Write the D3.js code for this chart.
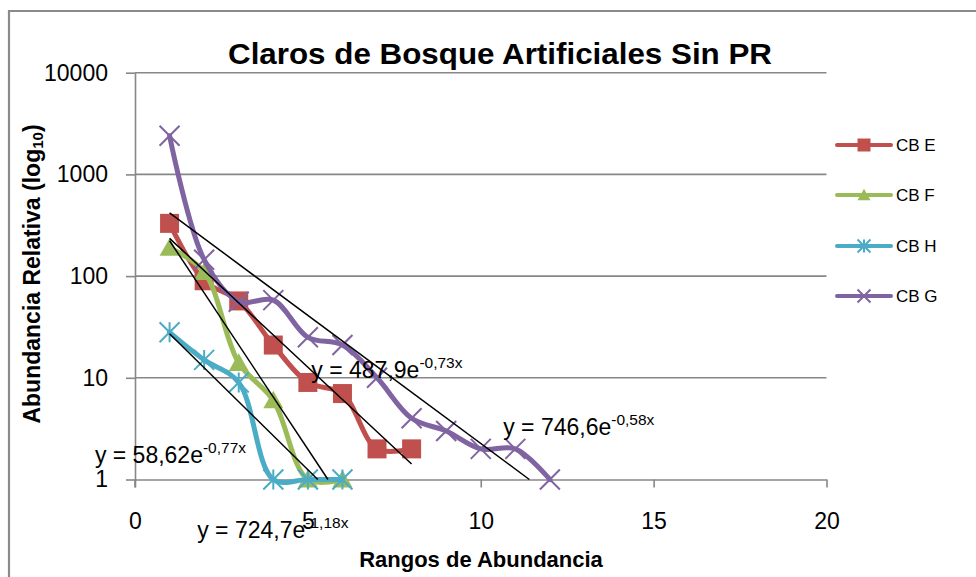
<!DOCTYPE html>
<html>
<head>
<meta charset="utf-8">
<script src="https://cdn.jsdelivr.net/npm/d3@7"></script>
<style>
  body { margin: 0; background: #fff; }
  svg { display: block; font-family: "Liberation Sans", Arial, sans-serif; }
  .axis path, .axis line { stroke: #878787; stroke-width: 1.6px; }
  .axis text { fill: #000; font-size: 23px; font-family: "Liberation Sans", Arial, sans-serif; }
</style>
</head>
<body>
<div class="chart"></div>
<script>
// data
const rangos = [1, 2, 3, 4, 5, 6, 7, 8, 9, 10, 11, 12];
const cbE = [330, 90, 57, 21, 9, 7, 2, 2];
const cbF = [190, 110, 14, 6, 1, 1];
const cbH = [28, 15, 9, 1, 1, 1];
const cbG = [2400, 145, 56, 58, 25, 21, 10, 4, 3, 2, 2, 1];
const seriesNames = ["CB E", "CB F", "CB H", "CB G"];
const seriesColors = ["#C0504D", "#9BBB59", "#4BACC6", "#8064A2"];
const markerTypes = ["square", "triangle", "star", "cross"];

// exponential trendlines y = a * e^(b x)
const trendA = [487.9, 724.7, 58.62, 746.6];
const trendB = [-0.73, -1.18, -0.77, -0.58];
const trendText = ["y = 487,9e", "y = 724,7e", "y = 58,62e", "y = 746,6e"];
const trendExp = ["-0,73x", "-1,18x", "-0,77x", "-0,58x"];
// where each equation label sits (data coords: x, y)
const trendLabelX = [5.1, 1.8, -1.16, 10.65];
const trendLabelY = [9.95, 0.266, 1.45, 2.74];

const xTicks = [0, 5, 10, 15, 20];
const yTicks = [1, 10, 100, 1000, 10000];

const series = [cbE, cbF, cbH, cbG].map((vals, i) => ({
  name: seriesNames[i],
  color: seriesColors[i],
  marker: markerTypes[i],
  values: vals.map((v, j) => ({ x: rangos[j], y: v })),
}));

const W = 976, H = 577;
const svg = d3.select(".chart").append("svg").attr("width", W).attr("height", H);

const x = d3.scaleLinear().domain([0, 20]).range([135, 826.5]);
const y = d3.scaleLog().domain([1, 10000]).range([479.5, 72.7]);

// outer chart border (runs off the right / bottom edge)
svg.append("path")
  .attr("d", `M9,${H + 5}V11H${W + 5}`)
  .attr("fill", "none")
  .attr("stroke", "#8a8a8a")
  .attr("stroke-width", 2.2);

// horizontal gridlines
svg.append("g")
  .selectAll("line")
  .data(yTicks.slice(1))
  .enter()
  .append("line")
  .attr("x1", x(0))
  .attr("x2", x(20))
  .attr("y1", (d) => y(d))
  .attr("y2", (d) => y(d))
  .attr("stroke", "#878787")
  .attr("stroke-width", 1.6);

const yAxis = d3.axisLeft(y).tickValues(yTicks).tickSize(9).tickSizeOuter(0)
  .tickPadding(18).tickFormat(d3.format("d"));
svg.append("g").attr("class", "axis y-axis")
  .attr("transform", `translate(${x(0)},0)`)
  .call(yAxis);
// y axis runs a bit below the x axis like in Excel
svg.append("line")
  .attr("x1", x(0)).attr("x2", x(0))
  .attr("y1", y(1)).attr("y2", y(1) + 8)
  .attr("stroke", "#878787").attr("stroke-width", 1.6);

const xAxis = d3.axisBottom(x).tickValues(xTicks).tickSize(8).tickSizeOuter(0)
  .tickPadding(25);
svg.append("g").attr("class", "axis x-axis")
  .attr("transform", `translate(0,${y(1)})`)
  .call(xAxis);

// markers
function drawMarker(g, type, color, s) {
  if (type === "square") {
    g.append("rect").attr("x", -s / 2).attr("y", -s / 2).attr("width", s).attr("height", s)
      .attr("fill", color);
  } else if (type === "triangle") {
    g.append("path")
      .attr("d", `M0,${-s * 0.48}L${s / 2},${s * 0.4}L${-s / 2},${s * 0.4}Z`)
      .attr("fill", color);
  } else if (type === "star") {
    const r = s / 2;
    g.append("path")
      .attr("d", `M${-r},${-r}L${r},${r}M${-r},${r}L${r},${-r}M0,${-r}V${r}`)
      .attr("stroke", color).attr("stroke-width", 2).attr("fill", "none");
  } else {
    const r = s / 2;
    g.append("path")
      .attr("d", `M${-r},${-r}L${r},${r}M${-r},${r}L${r},${-r}`)
      .attr("stroke", color).attr("stroke-width", 2).attr("fill", "none");
  }
}

const line = d3.line()
  .x((d) => x(d.x))
  .y((d) => y(d.y))
  .curve(d3.curveCatmullRom.alpha(0.5));

series.forEach((s) => {
  const g = svg.append("g").attr("class", "series");
  g.append("path")
    .attr("d", line(s.values))
    .attr("fill", "none")
    .attr("stroke", s.color)
    .attr("stroke-width", 5)
    .attr("stroke-linejoin", "round")
    .attr("stroke-linecap", "round");
  g.selectAll("g.pt")
    .data(s.values)
    .enter()
    .append("g")
    .attr("class", "pt")
    .attr("transform", (d) => `translate(${x(d.x)},${y(d.y)})`)
    .each(function () {
      drawMarker(d3.select(this), s.marker, s.color, s.marker === "square" ? 19 : 20);
    });
});

// trendlines, cut off at the axis minimum (y = 1)
series.forEach((s, i) => {
  const a = trendA[i], b = trendB[i];
  const x0 = s.values[0].x;
  const xEnd = Math.min(s.values[s.values.length - 1].x, Math.log(1 / a) / b);
  svg.append("line")
    .attr("x1", x(x0)).attr("y1", y(a * Math.exp(b * x0)))
    .attr("x2", x(xEnd)).attr("y2", y(a * Math.exp(b * xEnd)))
    .attr("stroke", "#000")
    .attr("stroke-width", 1.5);
});

// equation labels
series.forEach((s, i) => {
  const t = svg.append("text")
    .attr("x", x(trendLabelX[i]))
    .attr("y", y(trendLabelY[i]))
    .attr("font-size", 23)
    .attr("fill", "#000");
  t.append("tspan").text(trendText[i]);
  t.append("tspan").attr("dy", -10).attr("font-size", 15.5).text(trendExp[i]);
});

// titles
svg.append("text")
  .attr("x", 500).attr("y", 64)
  .attr("text-anchor", "middle")
  .attr("font-size", 29).attr("font-weight", "bold")
  .attr("textLength", 544).attr("lengthAdjust", "spacingAndGlyphs")
  .text("Claros de Bosque Artificiales Sin PR");

svg.append("text")
  .attr("x", 481).attr("y", 567)
  .attr("text-anchor", "middle")
  .attr("font-size", 22).attr("font-weight", "bold")
  .text("Rangos de Abundancia");

const yTitle = svg.append("text")
  .attr("transform", "translate(40,274) rotate(-90)")
  .attr("text-anchor", "middle")
  .attr("font-size", 23).attr("font-weight", "bold");
yTitle.append("tspan").text("Abundancia Relativa (log");
yTitle.append("tspan").attr("font-size", 15).attr("dy", 3).text("10");
yTitle.append("tspan").attr("dy", -3).text(")");

// legend
const legendY = [145, 195, 246, 296];
const legend = svg.append("g").selectAll("g").data(series).enter().append("g")
  .attr("transform", (d, i) => `translate(837,${legendY[i]})`);
legend.append("line")
  .attr("x1", 0).attr("x2", 54)
  .attr("stroke", (d) => d.color)
  .attr("stroke-width", 4)
  .attr("stroke-linecap", "round");
legend.each(function (d) {
  const g = d3.select(this).append("g").attr("transform", "translate(27,0)");
  drawMarker(g, d.marker, d.color, 13);
});
legend.append("text")
  .attr("x", 59).attr("y", 6)
  .attr("font-size", 17)
  .text((d) => d.name);
</script>
</body>
</html>
